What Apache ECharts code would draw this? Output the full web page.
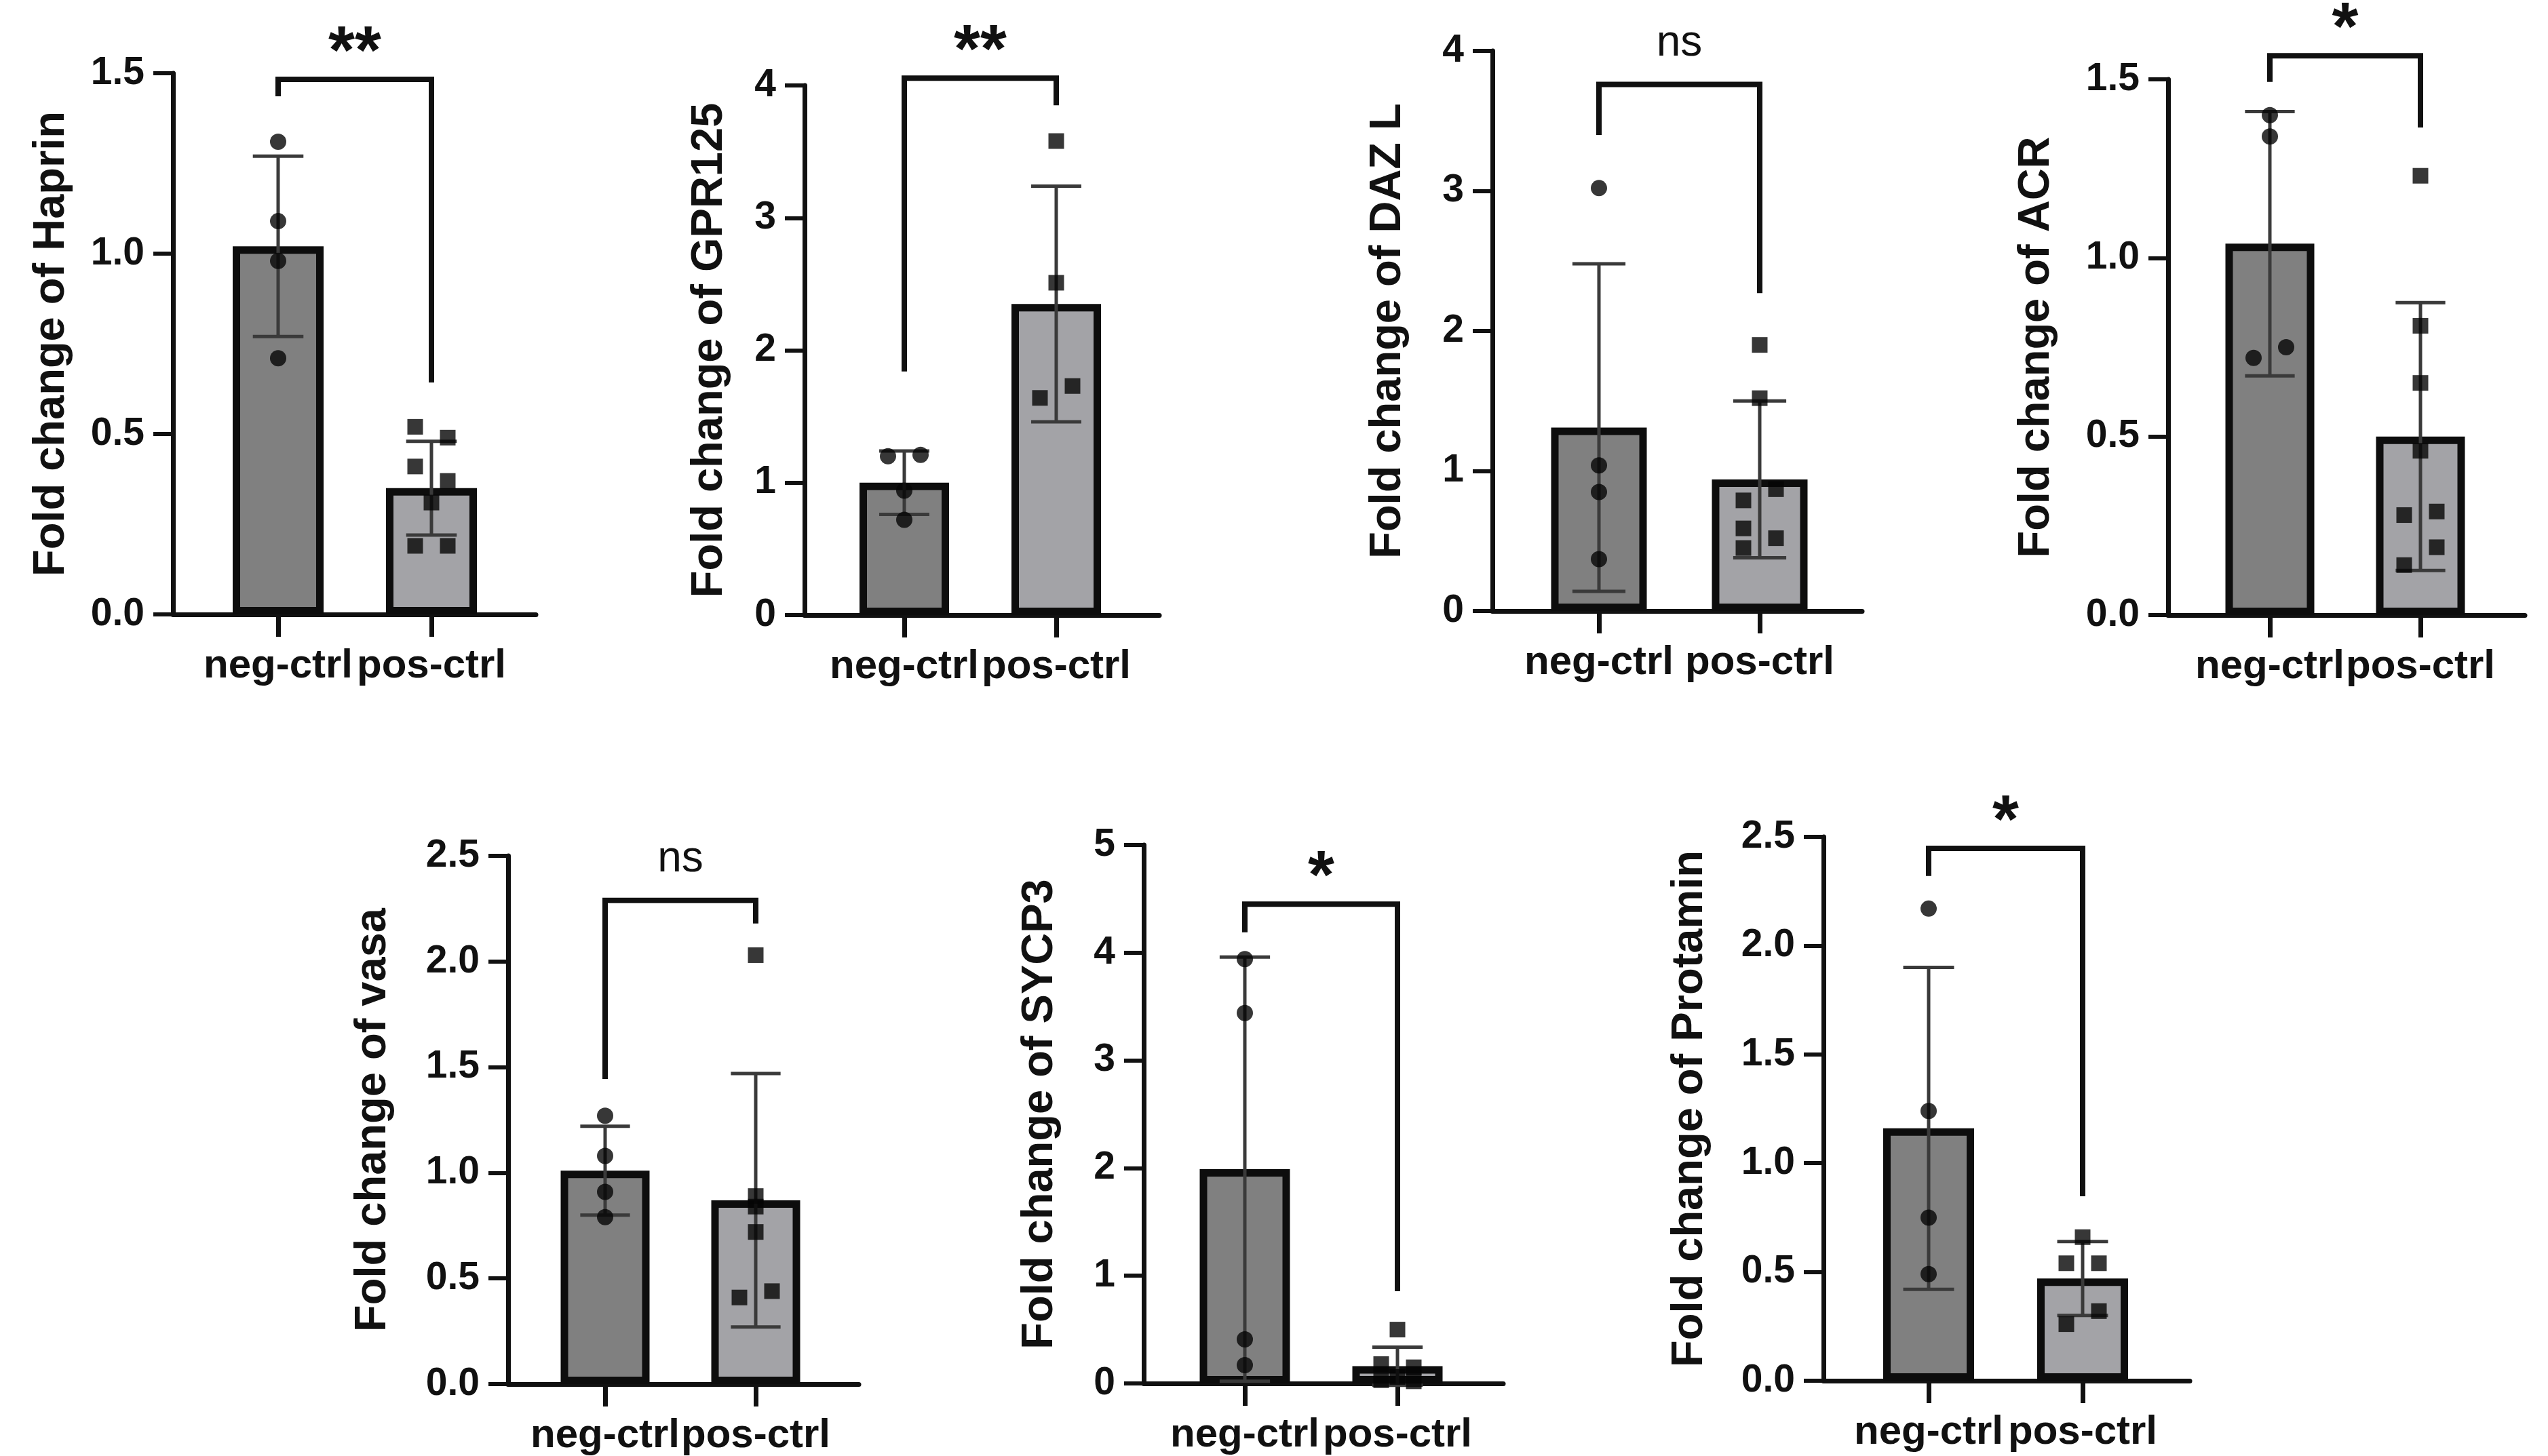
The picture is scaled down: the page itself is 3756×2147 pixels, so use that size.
<!DOCTYPE html>
<html>
<head>
<meta charset="utf-8">
<title>Fold change</title>
<script src="https://cdn.jsdelivr.net/npm/echarts@6/dist/echarts.min.js"></script>
<style>
html, body { margin: 0; padding: 0; background: #fff; }
#chart { width: 3756px; height: 2147px; }
</style>
</head>
<body>
<div id="chart"></div>
<script>
// groups on every x axis
const groups = ['neg-ctrl', 'pos-ctrl'];

// one entry per panel
const genes = ['Haprin', 'GPR125', 'DAZ L', 'ACR', 'vasa', 'SYCP3', 'Protamin'];
const yMax = [1.5, 4, 4, 1.5, 2.5, 5, 2.5];
const yStep = [0.5, 1, 1, 0.5, 0.5, 1, 0.5];
const yDecimals = [1, 0, 0, 1, 1, 0, 1];

// bar height (mean) and SD, [neg, pos]
const means = [[1.02, 0.35], [1.00, 2.35], [1.31, 0.94], [1.04, 0.50], [1.01, 0.87], [1.99, 0.16], [1.16, 0.47]];
const sds = [[0.25, 0.13], [0.24, 0.89], [1.17, 0.56], [0.37, 0.375], [0.21, 0.60], [1.97, 0.177], [0.74, 0.17]];

// single measurements
const negPoints = [
  [1.31, 1.09, 0.98, 0.71],
  [1.20, 1.21, 0.94, 0.72],
  [3.02, 1.04, 0.85, 0.37],
  [1.40, 1.34, 0.72, 0.75],
  [1.27, 1.08, 0.91, 0.79],
  [3.94, 3.44, 0.41, 0.17],
  [2.17, 1.24, 0.75, 0.49]
];
const posPoints = [
  [0.52, 0.49, 0.41, 0.37, 0.31, 0.19, 0.19],
  [3.58, 2.51, 1.64, 1.73],
  [1.90, 1.52, 0.79, 0.87, 0.59, 0.52, 0.45],
  [1.23, 0.81, 0.65, 0.46, 0.28, 0.29, 0.19, 0.14],
  [2.03, 0.89, 0.84, 0.72, 0.41, 0.44],
  [0.50, 0.18, 0.15, 0.06, 0.03, 0.02],
  [0.66, 0.54, 0.54, 0.32, 0.26]
];
// column a point is nudged into: -1 left, 0 middle, 1 right
const negJitter = [
  [0, 0, 0, 0], [-1, 1, 0, 0], [0, 0, 0, 0], [0, 0, -1, 1],
  [0, 0, 0, 0], [0, 0, 0, 0], [0, 0, 0, 0]
];
const posJitter = [
  [-1, 1, -1, 1, 0, -1, 1],
  [0, 0, -1, 1],
  [0, 0, -1, 1, -1, 1, -1],
  [0, 0, 0, 0, -1, 1, 1, -1],
  [0, 0, 0, 0, -1, 1],
  [0, -1, 1, 0, -1, 1],
  [0, -1, 1, 1, -1]
];

// significance brackets: [top, end of left leg, end of right leg]
const brackets = [
  [1.483, 1.436, 0.643], [4.055, 1.84, 3.85], [3.76, 3.40, 2.27], [1.566, 1.493, 1.365],
  [2.289, 1.444, 2.18], [4.45, 4.19, 0.857], [2.447, 2.32, 0.848]
];
const signif = ['**', '**', 'ns', '*', 'ns', '*', '*'];

// panel boxes in px: y axis x, x axis end, top tick, zero line, group centres
const boxes = [
  { l: 255, r: 790, t: 108, b: 906, c0: 410, c1: 636, gap: 146 },
  { l: 1186, r: 1709, t: 126, b: 907, c0: 1333, c1: 1557, gap: 107 },
  { l: 2200, r: 2745, t: 75, b: 901, c0: 2357, c1: 2594, gap: 121 },
  { l: 3196, r: 3722, t: 117, b: 907, c0: 3346, c1: 3568, gap: 161 },
  { l: 749, r: 1266, t: 1262, b: 2043, c0: 892, c1: 1114, gap: 166 },
  { l: 1686, r: 2216, t: 1246, b: 2040, c0: 1835, c1: 2060, gap: 120 },
  { l: 2688, r: 3228, t: 1234, b: 2036, c0: 2843, c1: 3070, gap: 164 }
];

const FONT = '"Liberation Sans", Arial, sans-serif';
const INK = '#111';
const barColors = ['#808080', '#a3a3a7'];

const mychart = echarts.init(document.getElementById('chart'));

const grid = [], xAxis = [], yAxis = [], series = [];

boxes.forEach((bx, k) => {
  const sp = bx.c1 - bx.c0; // px per group step
  grid.push({ left: bx.l, top: bx.t, width: bx.r - bx.l, height: bx.b - bx.t, containLabel: false });

  xAxis.push({
    gridIndex: k,
    type: 'value',
    min: -(bx.c0 - bx.l) / sp,
    max: 1 + (bx.r - bx.c1) / sp,
    axisLine: { onZero: false, lineStyle: { color: INK, width: 7 } },
    axisTick: { show: true, customValues: [0, 1], length: 33, lineStyle: { color: INK, width: 7 } },
    axisLabel: {
      customValues: [0, 1],
      formatter: v => groups[Math.round(v)],
      margin: 46, fontFamily: FONT, fontWeight: 'bold', fontSize: 60, color: INK
    },
    splitLine: { show: false }
  });

  yAxis.push({
    gridIndex: k,
    type: 'value',
    min: 0,
    max: yMax[k],
    interval: yStep[k],
    name: 'Fold change of ' + genes[k],
    nameLocation: 'middle',
    nameRotate: 90,
    nameGap: bx.gap,
    nameTextStyle: { fontFamily: FONT, fontWeight: 'bold', fontSize: 65, color: INK },
    axisLine: { show: true, onZero: false, lineStyle: { color: INK, width: 7 } },
    axisTick: { show: true, length: 29, lineStyle: { color: INK, width: 6 } },
    axisLabel: {
      margin: 42, fontFamily: FONT, fontWeight: 'bold', fontSize: 57, color: INK,
      formatter: v => v.toFixed(yDecimals[k])
    },
    splitLine: { show: false }
  });

  const barW = Math.round(sp * 0.64) - 11;
  const capW = sp * 0.33;
  const jit = 24 / sp;

  series.push({
    type: 'bar',
    xAxisIndex: k, yAxisIndex: k,
    barWidth: barW,
    z: 2,
    itemStyle: { borderColor: '#0d0d0d', borderWidth: 11 },
    data: means[k].map((m, i) => ({ value: [i, m], itemStyle: { color: barColors[i] } }))
  });

  series.push({
    type: 'custom',
    xAxisIndex: k, yAxisIndex: k,
    z: 3,
    clip: false,
    data: means[k].map((m, i) => [i, m - sds[k][i], m + sds[k][i]]),
    renderItem: (params, api) => {
      const lo = api.coord([api.value(0), api.value(1)]);
      const hi = api.coord([api.value(0), api.value(2)]);
      const st = { stroke: '#3a3a3a', lineWidth: 5 };
      return {
        type: 'group',
        children: [
          { type: 'line', shape: { x1: lo[0], y1: lo[1], x2: hi[0], y2: hi[1] }, style: st },
          { type: 'line', shape: { x1: hi[0] - capW / 2, y1: hi[1], x2: hi[0] + capW / 2, y2: hi[1] }, style: st },
          { type: 'line', shape: { x1: lo[0] - capW / 2, y1: lo[1], x2: lo[0] + capW / 2, y2: lo[1] }, style: st }
        ]
      };
    }
  });

  series.push({
    type: 'scatter',
    xAxisIndex: k, yAxisIndex: k,
    symbol: 'circle', symbolSize: 24, z: 4,
    itemStyle: { color: '#050505' },
    data: negPoints[k].map((v, j) => [negJitter[k][j] * jit, v])
  });
  series.push({
    type: 'scatter',
    xAxisIndex: k, yAxisIndex: k,
    symbol: 'rect', symbolSize: 23, z: 4,
    itemStyle: { color: '#050505' },
    data: posPoints[k].map((v, j) => [1 + posJitter[k][j] * jit, v])
  });

  // significance bracket with its label
  series.push({
    type: 'custom',
    xAxisIndex: k, yAxisIndex: k,
    z: 5,
    clip: false,
    data: [[0, 1].concat(brackets[k])],
    renderItem: (params, api) => {
      const a = api.coord([api.value(0), api.value(3)]);
      const b = api.coord([api.value(0), api.value(2)]);
      const c = api.coord([api.value(1), api.value(2)]);
      const d = api.coord([api.value(1), api.value(4)]);
      const stars = signif[k] !== 'ns';
      return {
        type: 'group',
        children: [
          {
            type: 'polyline',
            shape: { points: [a, b, c, d] },
            style: { stroke: INK, lineWidth: 8, fill: null }
          },
          {
            type: 'text',
            style: {
              text: signif[k],
              x: (b[0] + c[0]) / 2,
              y: b[1] - (stars ? 37 : 60),
              align: 'center', verticalAlign: 'middle',
              textAlign: 'center', textVerticalAlign: 'middle',
              fill: INK,
              font: (stars ? 'bold 100px ' : '64px ') + FONT
            }
          }
        ]
      };
    }
  });
});

mychart.setOption({
  backgroundColor: '#fff',
  animation: false,
  grid: grid,
  xAxis: xAxis,
  yAxis: yAxis,
  series: series
});

window.addEventListener('resize', () => {
  mychart.resize();
});
</script>
</body>
</html>
